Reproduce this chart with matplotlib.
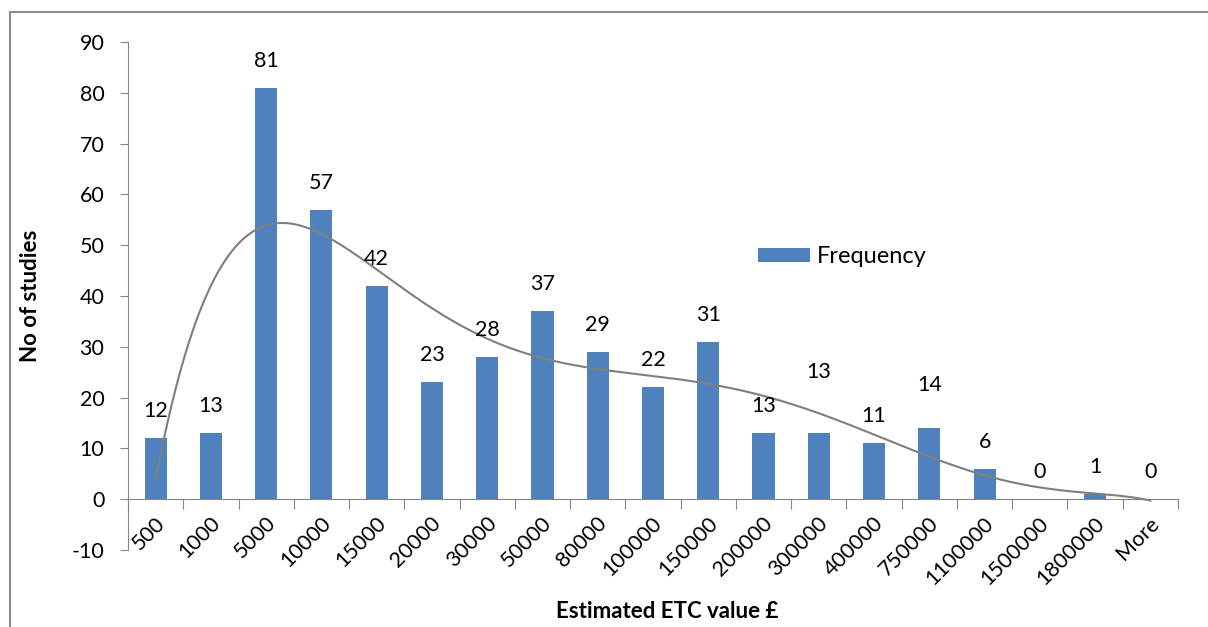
import matplotlib.pyplot as plt
import matplotlib.patches as mpatches
from matplotlib.transforms import ScaledTranslation
import numpy as np

plt.rcParams['font.family'] = ['Lato', 'DejaVu Sans']
plt.rcParams['axes.unicode_minus'] = False

# data
bins = ["500", "1000", "5000", "10000", "15000", "20000", "30000", "50000",
        "80000", "100000", "150000", "200000", "300000", "400000", "750000",
        "1100000", "1500000", "1800000", "More"]
frequency = [12, 13, 81, 57, 42, 23, 28, 37, 29, 22, 31, 13, 13, 11, 14, 6, 0, 1, 0]

# labels moved by hand in the original (pixels)
label_nudge = {"300000": 34, "750000": 16}

fig = plt.figure(figsize=(12.08, 6.27), dpi=100)
ax = fig.add_axes([128 / 1208, 1 - 550 / 627, 1050 / 1208, 508 / 627])

x = np.arange(len(bins))
ax.bar(x, frequency, width=0.4, color='#4F81BD', label='Frequency', zorder=2)

# 6th order polynomial trendline (as Excel)
coef = np.polyfit(x + 1, frequency, 6)
xs = np.linspace(0, len(bins) - 1, 300)
ax.plot(xs, np.polyval(coef, xs + 1), color='#7f7f7f', lw=1.5, zorder=3)

for xi, (b, v) in enumerate(zip(bins, frequency)):
    dy = 27 + label_nudge.get(b, 0)
    ax.annotate(str(v), (xi, v), xytext=(0, dy * 0.72), textcoords='offset points',
                ha='center', va='center', fontsize=15.5)

ax.set_xlim(-0.5, len(bins) - 0.5)
ax.set_ylim(-10, 90)
ax.set_yticks(range(-10, 91, 10))
ax.tick_params(axis='y', length=6, color='#868686', labelsize=15.5, pad=11)

ax.spines['bottom'].set_position(('data', 0))
for s in ['top', 'right']:
    ax.spines[s].set_visible(False)
for s in ['left', 'bottom']:
    ax.spines[s].set_color('#868686')

ax.set_xticks(np.arange(len(bins) + 1) - 0.5)
ax.set_xticklabels([])
ax.set_xticks(x, minor=True)
ax.set_xticklabels(bins, minor=True, rotation=45, ha='right', va='center',
                   rotation_mode='anchor', fontsize=15.5)
ax.tick_params(axis='x', which='major', length=7, color='#868686', direction='out')
ax.tick_params(axis='x', which='minor', length=0, pad=15)
shift = ScaledTranslation(6 / 100, 0, fig.dpi_scale_trans)
for lab in ax.get_xticklabels(minor=True):
    lab.set_transform(lab.get_transform() + shift)

ax.set_ylabel('No of studies', fontsize=16, fontweight='bold', labelpad=22)
fig.text(0.552, 1 - 611 / 627, 'Estimated ETC value £', fontsize=16,
         fontweight='bold', ha='center', va='center')

ax.legend(loc='center left', bbox_to_anchor=(0.58, 0.577), frameon=False,
          fontsize=17, handlelength=2.2, handleheight=0.55, handletextpad=0.3)

# outer border
fig.patches.append(mpatches.Rectangle((10 / 1208, -0.1), 2, 1.1 - 12 / 627,
                                      transform=fig.transFigure, fill=False,
                                      edgecolor='#8c8c8c', lw=1.5))

fig.savefig('out.png', dpi=100)
